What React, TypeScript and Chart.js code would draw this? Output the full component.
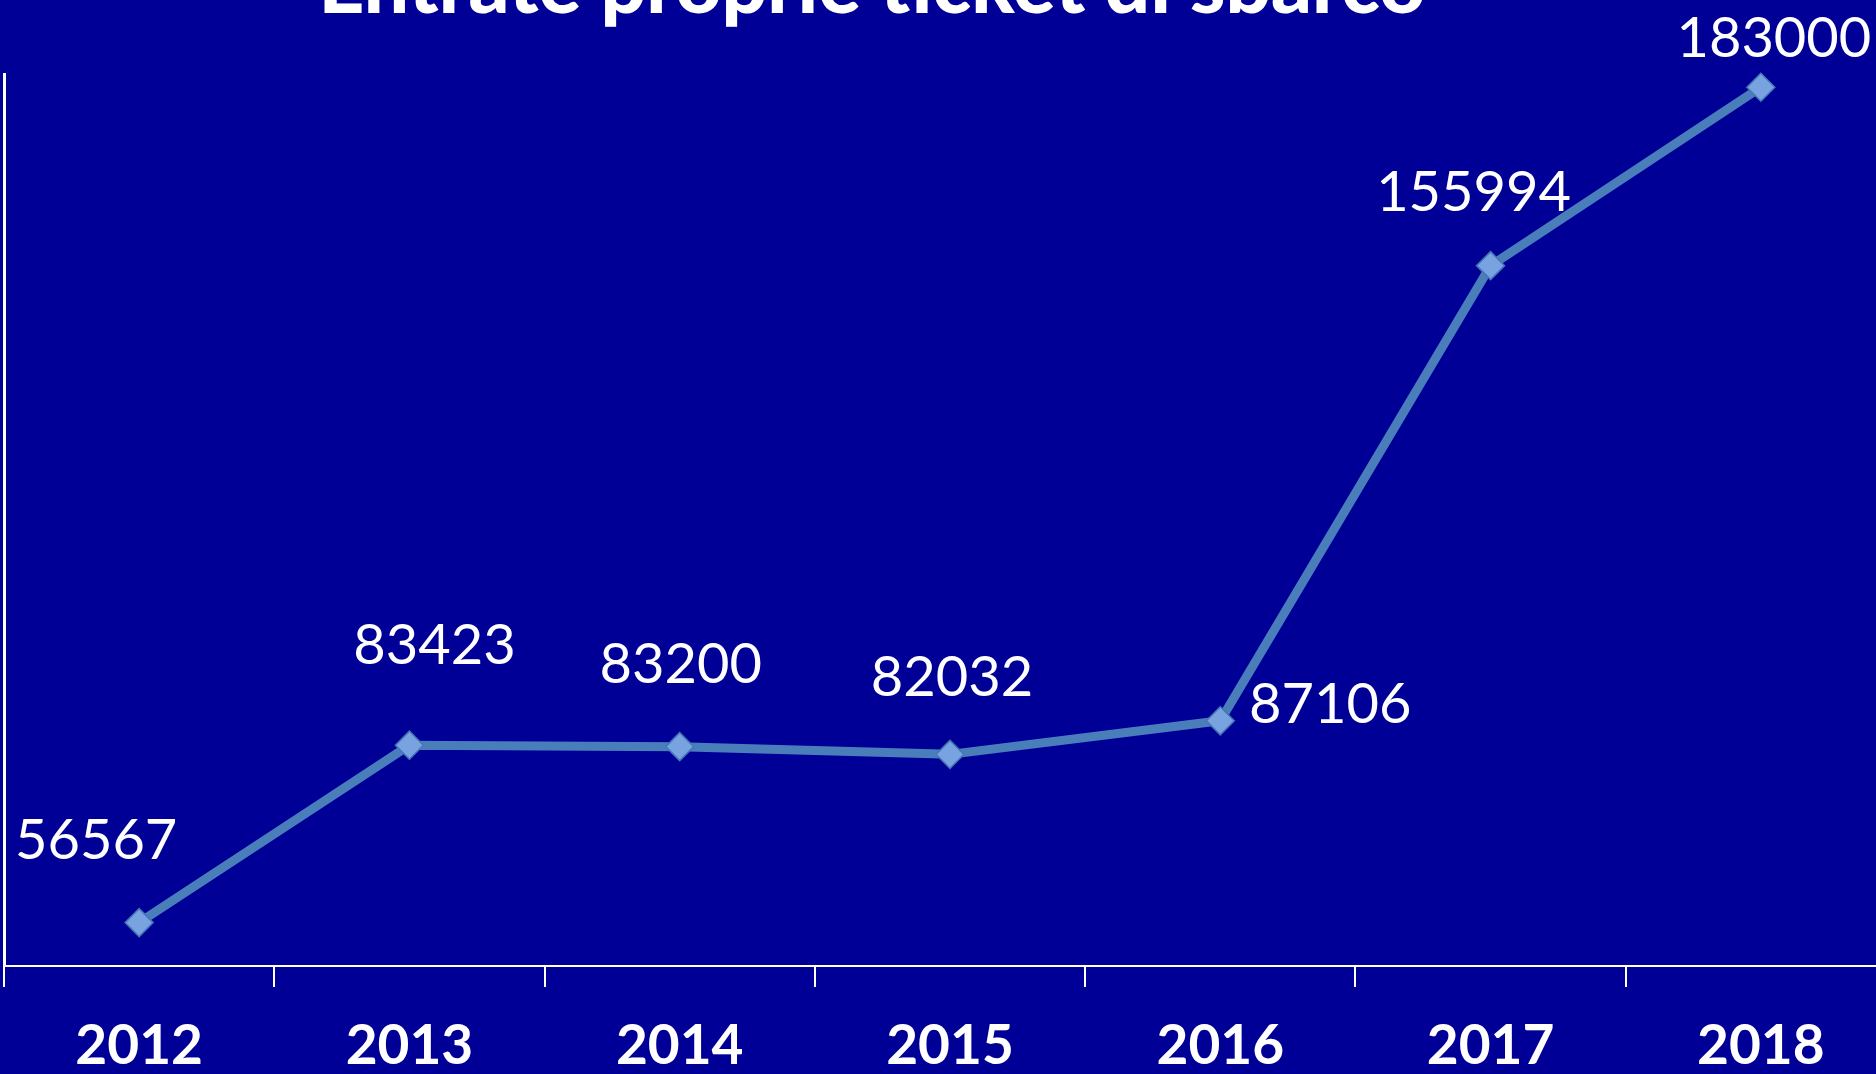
import React, { useEffect, useRef } from "react";
import { Chart, registerables } from "chart.js";

Chart.register(...registerables);

const TITLE = "Entrate proprie ticket di sbarco";
const YEARS = ["2012", "2013", "2014", "2015", "2016", "2017", "2018"];
const VALUES = [56567, 83423, 83200, 82032, 87106, 155994, 183000];
const LABEL_DX = [-43, 25, 1, 2, 110, -17, 13];
const LABEL_DY = [-84, -101, -84, -78, -18, -75, -50];
const Y_MIN = 50000;
const Y_MAX = 185000;

const BG = "#000096";
const FONT = "Lato, 'Open Sans', sans-serif";
const LINE_COLOR = "#4A7EBB";
const POINT_FILL = "#78A3E0";
const POINT_BORDER = "#4676B4";

const titlePlugin = {
  id: "pageTitle",
  afterDraw(chart: any) {
    const ctx = chart.ctx;
    ctx.save();
    ctx.font = `900 80px ${FONT}`;
    ctx.fillStyle = "#ffffff";
    ctx.textAlign = "center";
    ctx.textBaseline = "alphabetic";
    ctx.fillText(TITLE, 872, 13);
    ctx.restore();
  },
};

const valueLabelPlugin = {
  id: "valueLabels",
  afterDatasetsDraw(chart: any) {
    const ctx = chart.ctx;
    const meta = chart.getDatasetMeta(0);
    ctx.save();
    ctx.font = `56px ${FONT}`;
    ctx.fillStyle = "#ffffff";
    ctx.textAlign = "center";
    ctx.textBaseline = "middle";
    meta.data.forEach((pt: any, i: number) => {
      ctx.fillText(String(VALUES[i]), pt.x + LABEL_DX[i], pt.y + LABEL_DY[i] + 2);
    });
    ctx.restore();
  },
};

export default function App() {
  const ref = useRef<HTMLCanvasElement | null>(null);

  useEffect(() => {
    if (!ref.current) return;
    const chart = new Chart(ref.current, {
      type: "line",
      data: {
        labels: YEARS,
        datasets: [
          {
            data: VALUES,
            borderColor: LINE_COLOR,
            borderWidth: 9,
            pointStyle: "rectRot",
            pointRadius: 14,
            pointBackgroundColor: POINT_FILL,
            pointBorderColor: POINT_BORDER,
            pointBorderWidth: 1.5,
            tension: 0,
            clip: false as any,
          },
        ],
      },
      options: {
        responsive: false,
        animation: false,
        devicePixelRatio: 1,
        layout: { autoPadding: false, padding: { left: 4, top: 74, right: 4, bottom: 0 } },
        plugins: {
          legend: { display: false },
          tooltip: { enabled: false },
          title: { display: false },
        },
        scales: {
          x: {
            type: "category",
            offset: true,
            grid: {
              display: true,
              drawOnChartArea: false,
              drawTicks: true,
              tickLength: 21,
              color: "#ffffff",
              lineWidth: 2,
              offset: true,
            },
            border: { display: true, color: "#ffffff", width: 2 },
            ticks: {
              color: "#ffffff",
              font: { family: FONT, size: 55, weight: "bold" },
              padding: 26,
              maxRotation: 0,
              autoSkip: false,
            },
            afterFit: (s: any) => {
              s.height = 108;
            },
          },
          y: {
            min: Y_MIN,
            max: Y_MAX,
            ticks: { display: false },
            grid: { display: false, drawTicks: false },
            border: { display: true, color: "#ffffff", width: 3 },
            afterFit: (s: any) => {
              s.width = 0;
            },
          },
        },
      },
      plugins: [titlePlugin, valueLabelPlugin],
    });
    return () => chart.destroy();
  }, []);

  return (
    <div
      style={{
        position: "fixed",
        left: 0,
        top: 0,
        width: 1876,
        height: 1074,
        overflow: "hidden",
        background: BG,
      }}
    >
      <canvas
        ref={ref}
        width={1900}
        height={1074}
        style={{ position: "absolute", left: 0, top: 0, width: 1900, height: 1074 }}
      />
    </div>
  );
}
